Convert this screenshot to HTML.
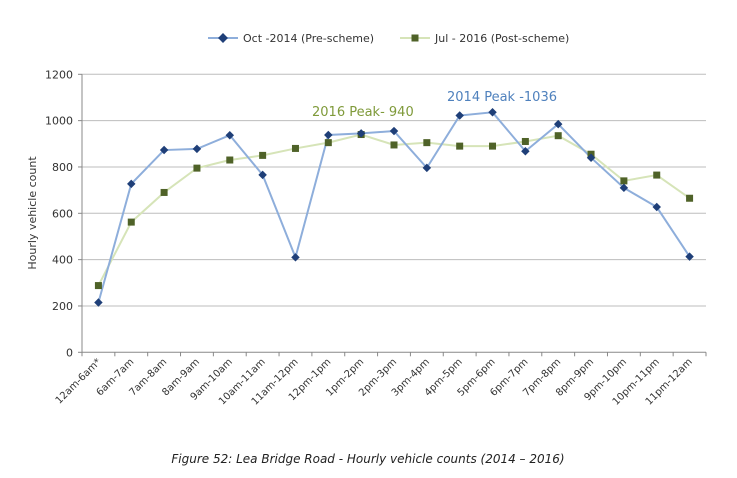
<!DOCTYPE html>
<html><head><meta charset="utf-8"><style>
body{margin:0;background:#fff;width:737px;height:473px;overflow:hidden;font-family:"Liberation Sans",sans-serif}
svg text{font-family:"DejaVu Sans","Liberation Sans",sans-serif}
</style></head><body>
<svg id="chart" width="737" height="473" viewBox="0 0 737 473">
<g id="grid"></g><g id="axes"></g><g id="series"></g>
<g>
<line x1="208" y1="38" x2="238" y2="38" stroke="#8eaedb" stroke-width="2"/>
<rect x="219.5" y="34.5" width="7" height="7" fill="#1f3f78" transform="rotate(45 223 38)"/>
<text x="243" y="42" font-size="11" fill="#333">Oct -2014 (Pre-scheme)</text>
<line x1="400" y1="38" x2="430" y2="38" stroke="#d6e4b8" stroke-width="2"/>
<rect x="411.5" y="34.5" width="7" height="7" fill="#4f6228"/>
<text x="435" y="42" font-size="11" fill="#333">Jul - 2016 (Post-scheme)</text>
</g>
<text x="36" y="213" font-size="11" fill="#333" transform="rotate(-90 36 213)" text-anchor="middle">Hourly vehicle count</text>
<text x="312" y="116" font-size="13" fill="#7f9a3a">2016 Peak- 940</text>
<text x="447" y="101" font-size="13" fill="#4f81bd">2014 Peak -1036</text>
<text x="368" y="463" font-size="12" font-style="italic" fill="#222" text-anchor="middle">Figure 52: Lea Bridge Road - Hourly vehicle counts (2014 – 2016)</text>
</svg>
<script>
const categories=["12am-6am*","6am-7am","7am-8am","8am-9am","9am-10am","10am-11am","11am-12pm","12pm-1pm","1pm-2pm","2pm-3pm","3pm-4pm","4pm-5pm","5pm-6pm","6pm-7pm","7pm-8pm","8pm-9pm","9pm-10pm","10pm-11pm","11pm-12am"];
const pre2014=[215,727,873,878,937,766,410,938,945,955,796,1022,1036,868,985,840,710,627,413];
const post2016=[288,562,690,795,830,850,880,905,940,895,905,890,890,910,935,855,740,765,665];
const yTicks=[0,200,400,600,800,1000,1200];
const NS="http://www.w3.org/2000/svg";
const L=82,R=706,T=74.3,B=352.3,YMAX=1200;
const cw=(R-L)/categories.length;
const x=i=>L+cw*(i+0.5);
const y=v=>B-(v/YMAX)*(B-T);
function mk(tag,at,parent){const e=document.createElementNS(NS,tag);for(const k in at)e.setAttribute(k,at[k]);parent.appendChild(e);return e;}
const grid=document.getElementById('grid'),axes=document.getElementById('axes'),ser=document.getElementById('series');
yTicks.forEach(t=>{
 if(t>0){const g=mk('line',{x1:L,x2:R,y1:y(t),y2:y(t),stroke:'#bdbdbd','stroke-width':1},grid);
 
 }
 const tx=mk('text',{x:L-9,y:y(t)+4,'font-size':11,'text-anchor':'end',fill:'#333'},axes);tx.textContent=t;
 
 
 mk('line',{x1:L-4,x2:L,y1:y(t),y2:y(t),stroke:'#888'},axes);
});
mk('line',{x1:L,x2:L,y1:T,y2:B,stroke:'#888'},axes);
mk('line',{x1:L,x2:R,y1:B,y2:B,stroke:'#888'},axes);
categories.forEach((c,i)=>{
 mk('line',{x1:L+cw*i,x2:L+cw*i,y1:B,y2:B+4,stroke:'#888'},axes);
 const tx=mk('text',{x:x(i)+3,y:B+10,'font-size':10,'text-anchor':'end',fill:'#333',transform:`rotate(-45 ${x(i)+3} ${B+10})`},axes);
 tx.textContent=c;
 
 
});
mk('line',{x1:R,x2:R,y1:B,y2:B+4,stroke:'#888'},axes);
function line(vals,color,name){
 const p=mk('polyline',{points:vals.map((v,i)=>x(i)+','+y(v)).join(' '),fill:'none',stroke:color,'stroke-width':2},ser);
 
 
}
line(post2016,'#d6e4b8','line-2016');
line(pre2014,'#8eaedb','line-2014');
post2016.forEach((v,i)=>{const r=mk('rect',{x:x(i)-3.5,y:y(v)-3.5,width:7,height:7,fill:'#4f6228'},ser);
 
 });
pre2014.forEach((v,i)=>{const r=mk('rect',{x:x(i)-3,y:y(v)-3,width:6,height:6,fill:'#1f3f78',transform:`rotate(45 ${x(i)} ${y(v)})`},ser);
 
 });
</script>
</body></html>
